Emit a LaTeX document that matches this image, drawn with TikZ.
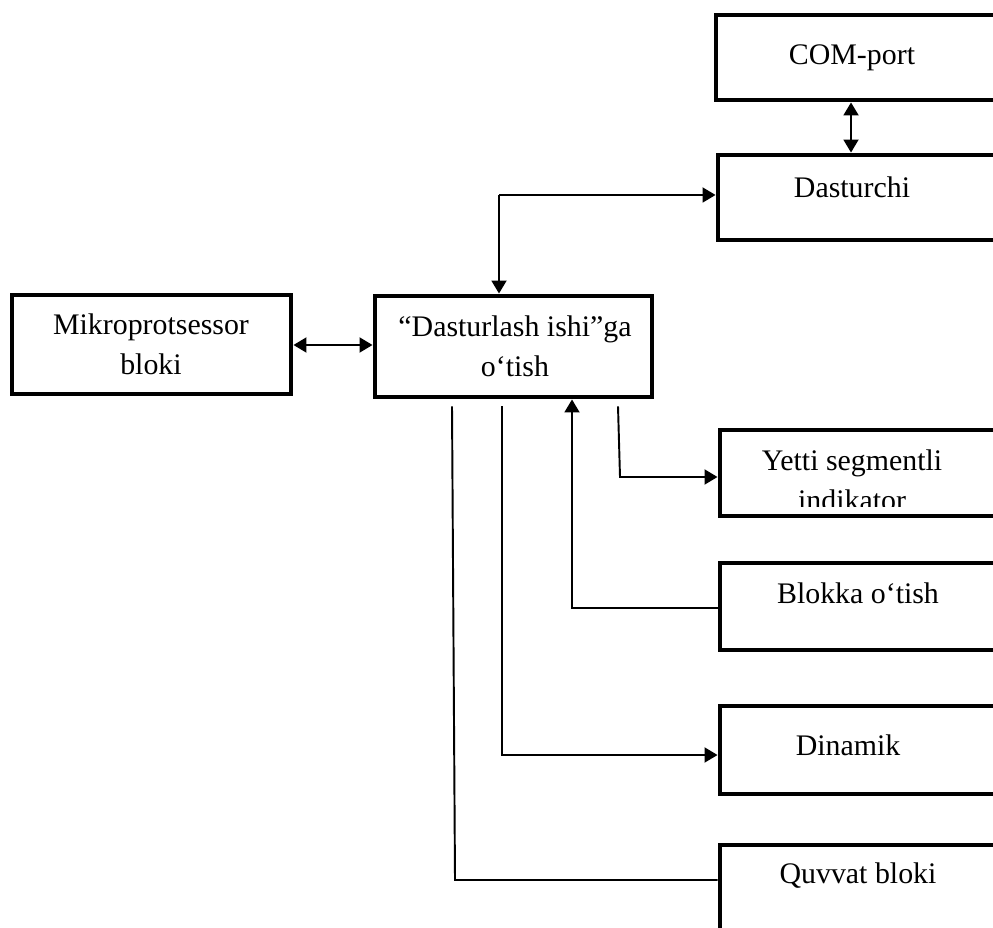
\documentclass[tikz,border=0pt]{standalone}
\usepackage{fontspec}
\setmainfont{Liberation Serif}
\usetikzlibrary{arrows.meta,fit}
\tikzset{
  box/.style={draw, line width=2.8pt, inner sep=0pt, fit={#1}},
  lbl/.style={font=\fontsize{17}{23}\selectfont, align=center, inner sep=0pt},
  conn/.style={line width=1.1pt},
  arr/.style={conn, -{Triangle[length=0.26cm,width=0.3cm]}},
  darr/.style={conn, {Triangle[length=0.26cm,width=0.3cm]}-{Triangle[length=0.26cm,width=0.3cm]}}
}
\begin{document}
\begin{tikzpicture}[x=0.02cm,y=-0.02cm]
\clip (0,0) rectangle (993,928);
\fill[white] (0,0) rectangle (993,928);
% boxes
\node[box={(716,15) (1010,100)}] (com) {};
\node[box={(718,155) (1010,240)}] (dast) {};
\node[box={(12,295) (291,394)}] (mikro) {};
\node[box={(375,296) (652,397)}] (prog) {};
\node[box={(720,430) (1010,516)}] (yetti) {};
\node[box={(720,563) (1010,650)}] (blokka) {};
\node[box={(720,706) (1010,794)}] (dinamik) {};
\node[box={(720,845) (1010,960)}] (quvvat) {};
% texts
\node[lbl] (tcom) at (852,58) {COM-port};
\node[lbl] (tdast) at (852,187) {Dasturchi};
\node[lbl] (tmikro) at (151,344) {Mikroprotsessor\\bloki};
\node[lbl] (tprog) at (515,346) {“Dasturlash ishi”ga\\o‘tish};
\begin{scope}
\clip (720,430) rectangle (1010,507);
\node[lbl] (tyetti) at (852,480) {Yetti segmentli\\indikator};
\end{scope}
\node[lbl] (tblokka) at (858,593) {Blokka o‘tish};
\node[lbl] (tdinamik) at (848,745) {Dinamik};
\node[lbl] (tquvvat) at (858,876) {Quvvat bloki};
% connectors
\draw[darr] (com.south -| 851,0) -- (dast.north -| 851,0);
\draw[darr] (mikro.east |- 0,345) -- (prog.west |- 0,345);
\coordinate (j) at (499,195);
\draw[arr] (j) -- (dast.west |- j);
\draw[arr] (j) -- (prog.north -| j);
\draw[arr] ([yshift=-0.14cm]prog.south -| 618,0) -- (620,477) -- (yetti.west |- 0,477);
\draw[arr] (blokka.west |- 0,608) -- (572,608) -- (prog.south -| 572,0);
\draw[arr] ([yshift=-0.14cm]prog.south -| 502,0) -- (502,755) -- (dinamik.west |- 0,755);
\draw[conn] ([yshift=-0.14cm]prog.south -| 452,0) -- (455,880) -- (quvvat.west |- 0,880);
\end{tikzpicture}
\end{document}
